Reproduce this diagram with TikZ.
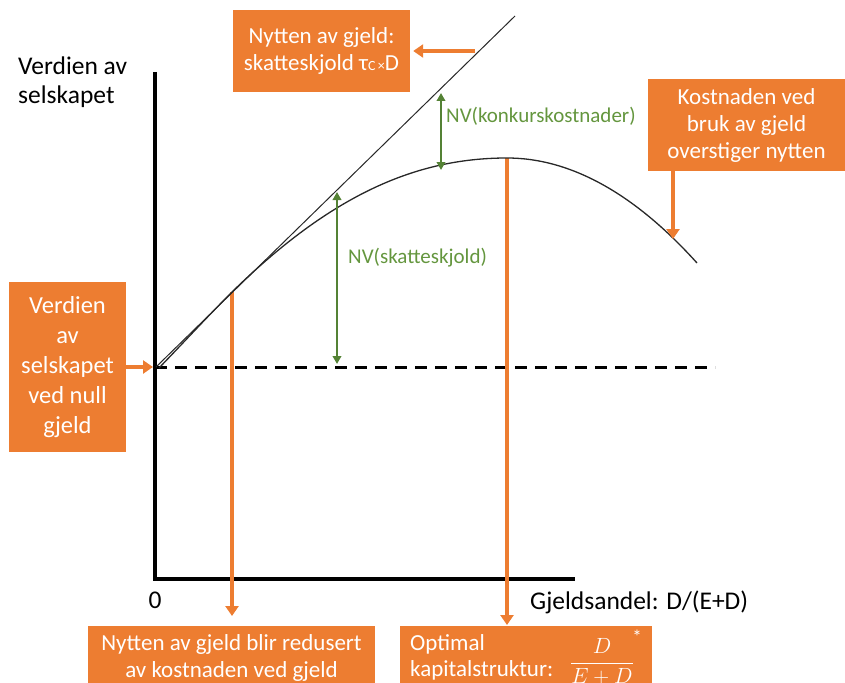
\documentclass[tikz,border=0pt]{standalone}
\usepackage{fix-cm}
\usepackage{fontspec}
\setmainfont{Carlito}
\usetikzlibrary{arrows.meta}

\definecolor{boxorange}{RGB}{237,125,49}
\definecolor{arrowgreen}{RGB}{84,130,53}
\definecolor{textgreen}{RGB}{100,150,62}
\definecolor{curvegray}{RGB}{40,40,40}

\tikzset{
  obox/.style={fill=boxorange, draw=none, text=white, inner sep=0pt, align=center,
               font=\fontsize{23}{27}\selectfont},
  wtext/.style={text=white, inner sep=0pt, font=\fontsize{23}{27}\selectfont},
  btext/.style={text=black, inner sep=0pt, font=\fontsize{25.5}{30}\selectfont},
  gtext/.style={text=textgreen, inner sep=0pt, font=\fontsize{21}{25}\selectfont},
  oarrow/.style={draw=boxorange, line width=4pt, -{Triangle[width=13pt,length=10pt]}},
  garrow/.style={draw=arrowgreen, line width=2.6pt,
                 {Triangle[width=8.5pt,length=8pt]}-{Triangle[width=8.5pt,length=8pt]}},
  axisline/.style={draw=black, line width=4.5pt, line join=miter},
  baseline dash/.style={draw=black, line width=3pt, dash pattern=on 12pt off 8pt},
  thinline/.style={draw=curvegray, line width=1pt},
  curveline/.style={draw=curvegray, line width=1.3pt}
}

\begin{document}
\begin{tikzpicture}[x=1pt,y=-1pt]
\useasboundingbox (0,0) rectangle (845,682);
\clip (0,0) rectangle (845,682);

% key points
\coordinate (ytop) at (155,72);
\coordinate (org) at (155,579);
\coordinate (xend) at (575,579);
\coordinate (v0) at (155,367);
\coordinate (dashend) at (715,367);
\coordinate (tanstart) at (156,367);
\coordinate (tanend) at (515,16);
\coordinate (cstart) at (159,368);
\coordinate (tp) at (232,292);
\coordinate (tpb) at (232,616);
\coordinate (pk) at (507,158);
\coordinate (pkb) at (507,625);
\coordinate (cend) at (697,263);
\coordinate (sk0) at (337,364);
\coordinate (sk1) at (337,192);
\coordinate (kk0) at (441,93);
\coordinate (kk1) at (441,170);
\coordinate (tg1) at (475,51);
\coordinate (kc0) at (673,170);
\coordinate (kc1) at (673,239);

% axes
\draw[axisline] (ytop) -- (org) -- (xend);

% value without debt
\draw[baseline dash] (v0) -- (dashend);

% orange drop lines
\draw[oarrow] (tp) -- (tpb);
\draw[oarrow] (pk) -- (pkb);

% tangent line and value curve
\draw[thinline] (tanstart) -- (tanend);
\draw[curveline] (cstart) .. controls (185,341) and (208,316) .. (tp)
  .. controls (332,194) and (417,158) .. (pk)
  .. controls (570,158) and (634,193) .. (cend);

% green distance arrows
\draw[garrow] (sk0) -- (sk1);
\draw[garrow] (kk0) -- (kk1);
\node[gtext, anchor=base west] (nvs) at (348,263) {NV(skatteskjold)};
\node[gtext, anchor=base west] (nvk) at (446,123) {NV(konkurskostnader)};

% axis texts
\node[btext, anchor=base west] (ylab1) at (18,75) {Verdien av};
\node[btext, anchor=base west] (ylab2) at (18,103) {selskapet};
\node[btext, anchor=base] (zero) at (155,608) {0};
\node[btext, anchor=base west] (xlab) at (530,609) {Gjeldsandel: D/(E+D)};

% callout boxes
\node[obox, minimum width=177pt, minimum height=82pt] (nyt) at (321.5,51)
  {Nytten av gjeld:\\skatteskjold τ{\fontsize{14}{14}\selectfont C\,×}D};
\draw[oarrow] (tg1) -- ([xshift=3pt]nyt.east);

\node[obox, minimum width=197pt, minimum height=91pt] (kost) at (746.5,125)
  {Kostnaden ved\\bruk av gjeld\\overstiger nytten};
\draw[oarrow] (kc0) -- (kc1);

\node[obox, minimum width=117pt, minimum height=170pt,
      font=\fontsize{24.5}{30}\selectfont] (val) at (67.5,367)
  {Verdien\\av\\selskapet\\ved null\\gjeld};
\draw[oarrow] (val.east) -- ([xshift=-2pt]v0);

\node[obox, minimum width=287pt, minimum height=64pt] (red) at (231.5,658)
  {Nytten av gjeld blir redusert\\av kostnaden ved gjeld};

\node[obox, minimum width=252pt, minimum height=64pt, anchor=north west] (opt) at (400,626) {};
\node[wtext, anchor=base west] (opt1) at (410,650) {Optimal};
\node[wtext, anchor=base west] (opt2) at (410,676) {kapitalstruktur:};
\node[wtext, font=\fontsize{22}{26}\selectfont] (frac) at (602,662)
  {$\displaystyle\frac{D}{E+D}$};
\node[wtext, font=\fontsize{19}{19}\selectfont] (star) at (637,637) {*};
\end{tikzpicture}
\end{document}
